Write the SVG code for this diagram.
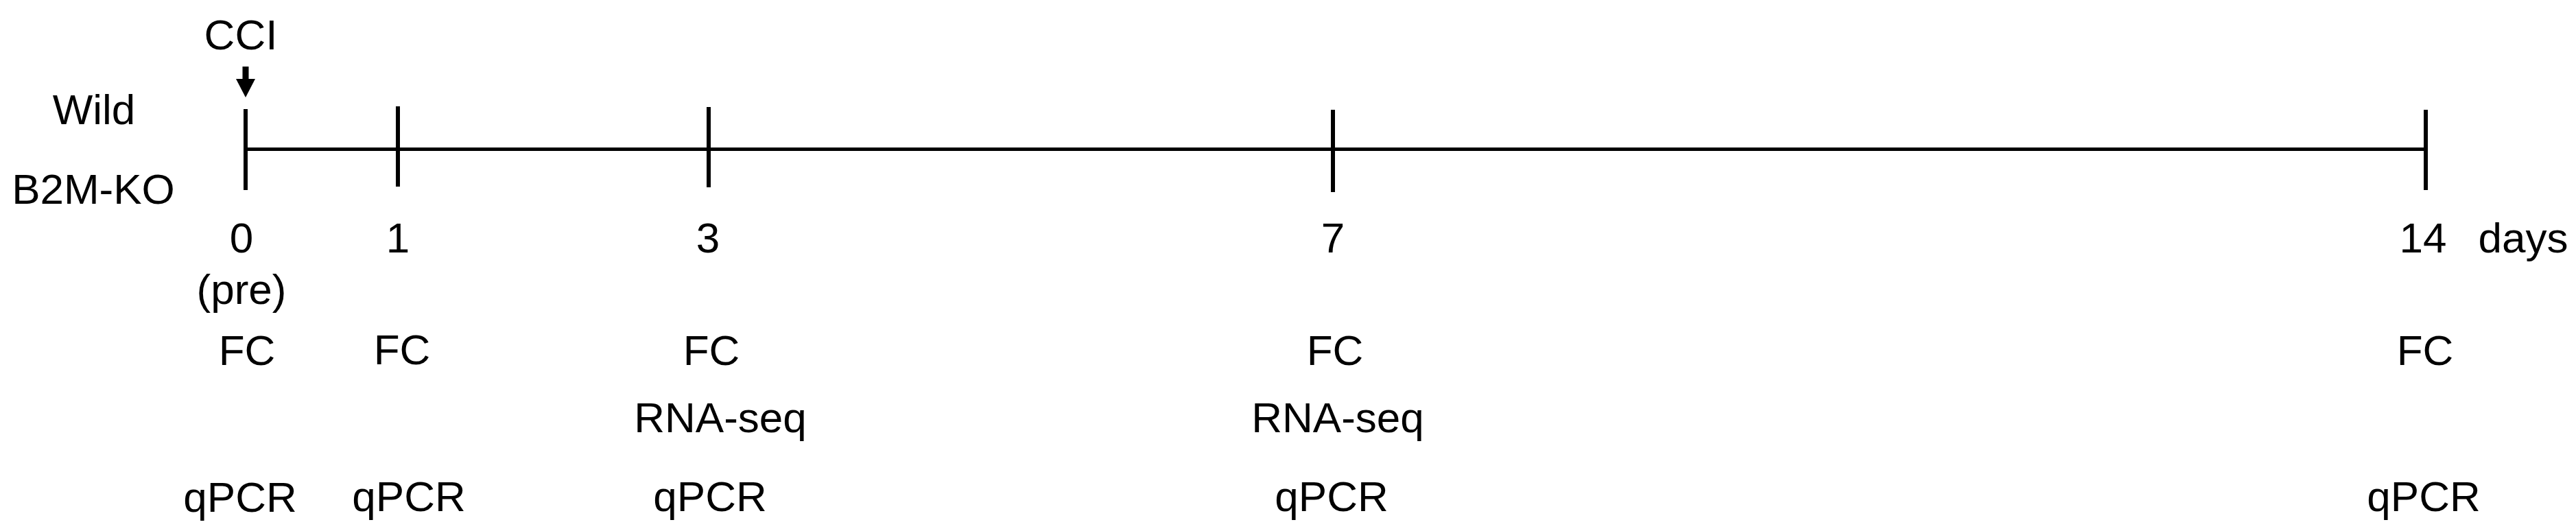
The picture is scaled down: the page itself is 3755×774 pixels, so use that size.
<svg xmlns="http://www.w3.org/2000/svg" width="3755" height="774" viewBox="0 0 3755 774">
<style>
text{font-family:"Liberation Sans",Arial,sans-serif;font-size:62px;fill:#000;text-anchor:middle}
.ln{stroke:#000;fill:none}
.tick{stroke-width:6}
</style>
<rect width="3755" height="774" fill="#fff"/>
<g id="labels-left">
<text x="137" y="181">Wild</text>
<text x="136" y="297">B2M-KO</text>
</g>
<g id="cci">
<text x="351" y="72">CCI</text>
</g>
<g id="connectors">
<line class="ln" x1="358" y1="97" x2="358" y2="118" stroke-width="9"/>
<polygon points="344,115 372,115 358,142" fill="#000"/>
<line class="ln" x1="358" y1="217.5" x2="3536" y2="217.5" stroke-width="5"/>
<line class="ln tick" x1="358" y1="159" x2="358" y2="277"/>
<line class="ln tick" x1="580" y1="155" x2="580" y2="272"/>
<line class="ln tick" x1="1033" y1="156" x2="1033" y2="273"/>
<line class="ln tick" x1="1943" y1="160" x2="1943" y2="280"/>
<line class="ln tick" x1="3536" y1="160" x2="3536" y2="277"/>
</g>
<g id="day0">
<text x="352" y="368">0</text>
<text x="352" y="443">(pre)</text>
<text x="360" y="532">FC</text>
<text x="350" y="746">qPCR</text>
</g>
<g id="day1">
<text x="580" y="368">1</text>
<text x="586" y="531">FC</text>
<text x="596" y="745">qPCR</text>
</g>
<g id="day3">
<text x="1032" y="368">3</text>
<text x="1037" y="532">FC</text>
<text x="1050" y="630">RNA-seq</text>
<text x="1035" y="745">qPCR</text>
</g>
<g id="day7">
<text x="1943" y="368">7</text>
<text x="1946" y="532">FC</text>
<text x="1950" y="630">RNA-seq</text>
<text x="1941" y="745">qPCR</text>
</g>
<g id="day14">
<text x="3532" y="368">14</text>
<text x="3678" y="368">days</text>
<text x="3535" y="532">FC</text>
<text x="3533" y="745">qPCR</text>
</g>
</svg>
